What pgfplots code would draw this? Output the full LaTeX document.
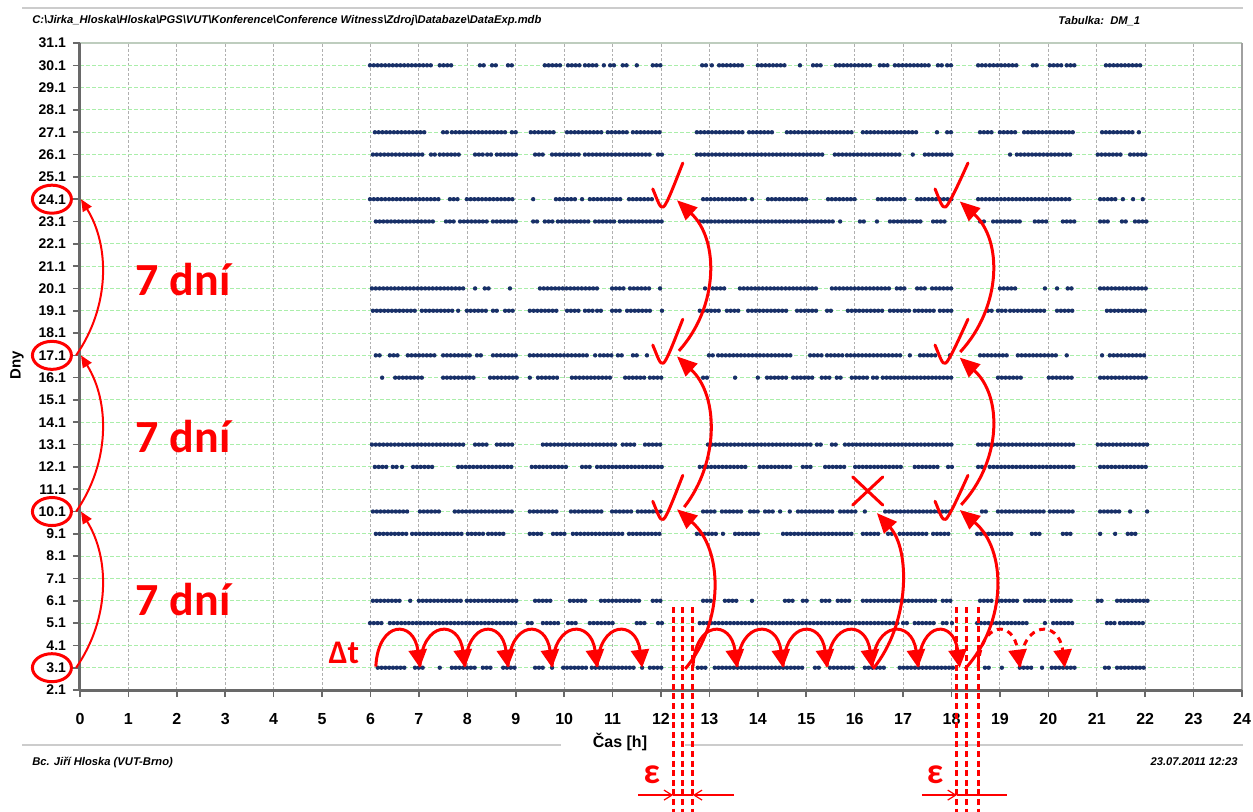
\documentclass[border=0pt]{standalone}
\usepackage{fontspec}
\setmainfont{Liberation Sans}
\newfontfamily\calib{Carlito}
\usepackage{pgfplots}
\pgfplotsset{compat=1.18}
\usepackage{pgfplotstable}
\usetikzlibrary{arrows.meta}
\definecolor{dotc}{RGB}{24,48,104}
\definecolor{axc}{RGB}{105,105,105}
\definecolor{vgrid}{RGB}{175,175,175}
\definecolor{hgrid}{RGB}{170,238,170}
\definecolor{topb}{RGB}{190,205,190}
\definecolor{rgtb}{RGB}{160,160,160}
\definecolor{rd}{RGB}{255,0,0}

% runs of points (start hour, end hour) for each day
\pgfplotstableread{
a b
5.99 7.31
7.43 7.74
8.26 8.34
8.51 8.61
8.84 8.96
9.60 9.95
10.08 10.37
10.43 10.68
10.82 10.88
10.95 11.05
11.21 11.36
11.50 11.54
11.83 12.02
12.85 12.97
13.05 13.07
13.20 13.69
14.00 14.62
14.87 14.93
15.14 15.34
15.61 16.36
16.52 16.69
16.83 17.39
17.45 17.60
17.72 17.80
17.91 18.01
18.55 18.73
18.79 19.41
19.68 19.79
20.03 20.30
20.38 20.55
21.19 21.95
}\dA
\pgfplotstableread{
a b
6.09 7.13
7.50 7.58
7.68 8.84
8.92 9.03
9.31 9.81
10.06 10.80
10.90 11.30
11.42 12.02
12.74 13.69
13.82 14.35
14.60 16.01
16.17 17.29
17.70 17.74
17.91 18.03
18.59 18.84
19.00 19.37
19.50 19.66
19.72 20.55
21.11 21.75
21.87 21.93
}\dB
\pgfplotstableread{
a b
6.05 7.13
7.25 7.37
7.43 7.89
8.16 8.34
8.41 8.51
8.61 9.03
9.40 9.60
9.75 10.33
10.43 11.77
11.94 12.04
12.74 15.34
15.59 16.98
17.20 17.24
17.45 18.01
19.21 19.25
19.35 20.51
21.02 21.52
21.69 22.06
}\dC
\pgfplotstableread{
a b
5.99 7.48
7.64 7.85
7.99 8.94
9.36 9.40
9.83 10.28
10.37 10.43
10.53 11.19
11.34 11.83
12.87 13.80
13.88 13.94
14.21 15.01
15.45 16.01
16.48 17.04
17.29 18.03
18.55 20.49
21.07 21.42
21.54 21.56
21.75 21.77
21.95 21.97
}\dD
\pgfplotstableread{
a b
6.11 7.33
7.56 7.79
7.85 8.47
8.53 9.03
9.36 9.50
9.60 9.77
9.87 10.53
10.64 11.09
11.15 12.04
12.80 15.55
15.70 15.76
16.11 16.25
16.46 16.48
16.73 17.39
17.62 17.93
18.59 18.73
18.86 19.48
19.72 19.99
20.30 20.55
21.07 21.27
21.52 21.64
21.79 22.04
}\dE
\pgfplotstableread{
a b
6.03 7.99
8.16 8.22
8.36 8.47
8.88 8.92
9.50 10.74
10.99 11.30
11.36 11.81
11.98 12.04
12.91 12.95
13.07 13.36
13.63 15.24
15.53 16.73
16.87 17.08
17.29 17.45
17.60 18.01
19.00 19.37
19.93 19.99
20.18 20.24
20.40 20.55
21.07 22.04
}\dF
\pgfplotstableread{
a b
6.05 6.96
7.06 7.70
7.81 7.85
7.99 8.41
8.53 8.61
8.78 8.98
9.29 9.91
10.06 10.33
10.43 10.64
10.68 10.80
10.99 11.21
11.30 11.83
12.02 12.04
12.80 13.26
13.36 13.67
13.80 14.62
14.81 15.28
15.43 15.55
15.86 16.58
16.73 17.14
17.24 17.66
17.76 18.01
18.75 18.84
18.96 19.14
19.21 19.45
19.52 19.97
20.18 20.55
21.21 22.04
}\dG
\pgfplotstableread{
a b
6.11 6.26
6.40 6.61
6.77 7.37
7.50 8.05
8.20 8.32
8.53 9.05
9.29 10.49
10.64 10.68
10.74 11.01
11.11 11.19
11.42 11.50
11.71 11.73
12.99 13.07
13.18 14.73
15.08 15.32
15.43 15.76
15.84 17.00
17.14 17.20
17.35 17.70
17.97 18.03
18.59 19.21
19.37 20.20
20.38 20.40
21.11 21.17
21.27 22.04
}\dH
\pgfplotstableread{
a b
6.24 6.30
6.51 7.13
7.50 8.20
8.47 9.05
9.29 9.36
9.46 9.91
10.16 10.99
11.26 11.67
11.77 12.02
12.87 13.01
13.53 13.57
14.00 14.04
14.19 14.62
14.73 15.18
15.32 15.49
15.63 15.74
15.94 16.32
16.38 16.48
16.58 18.01
18.96 19.48
20.01 20.55
21.07 22.06
}\dI
\pgfplotstableread{
a b
6.03 7.99
8.16 8.41
8.61 8.94
9.56 11.09
11.21 11.46
11.67 12.02
12.97 15.14
15.22 15.34
15.53 15.65
15.80 18.03
18.55 20.55
21.02 22.06
}\dJ
\pgfplotstableread{
a b
6.09 6.34
6.46 6.55
6.65 6.71
6.88 7.33
7.81 8.98
9.33 10.08
10.37 10.53
10.68 12.02
12.80 13.78
14.04 14.73
14.93 15.14
15.39 15.86
16.01 17.00
17.24 17.72
17.93 18.03
18.55 18.65
18.79 20.55
21.07 22.04
}\dK
\pgfplotstableread{
a b
6.05 6.82
7.02 7.48
7.74 8.98
9.29 9.87
10.14 10.78
10.99 11.42
11.52 12.02
12.87 13.11
13.26 13.69
13.84 14.00
14.15 14.31
14.46 14.48
14.66 14.73
14.83 15.55
15.70 16.05
16.21 16.23
16.63 18.03
18.63 18.75
18.96 19.93
20.03 20.55
21.07 21.52
21.69 21.71
22.04 22.06
}\dL
\pgfplotstableread{
a b
6.11 6.75
6.86 7.91
8.01 8.36
8.43 8.78
9.29 9.56
9.77 10.08
10.18 11.26
11.34 12.04
12.74 13.16
13.28 13.30
13.53 14.04
14.52 15.96
16.17 16.56
16.69 16.77
16.93 17.49
17.62 18.01
18.53 19.25
19.66 19.89
20.30 20.51
21.07 21.11
21.38 21.42
21.64 21.85
}\dM
\pgfplotstableread{
a b
6.05 6.65
6.82 6.88
7.00 7.89
7.99 9.03
9.40 9.77
10.12 10.47
10.76 11.57
11.83 12.02
12.87 13.05
13.32 13.63
13.88 13.94
14.56 14.73
14.93 15.01
15.32 15.53
15.65 15.90
16.17 17.72
17.82 18.03
18.59 18.90
18.96 19.37
19.52 19.93
20.07 20.51
21.02 21.17
21.42 22.06
}\dN
\pgfplotstableread{
a b
5.99 6.24
6.40 9.03
9.25 9.40
9.56 9.91
10.08 10.28
10.53 11.05
11.50 11.67
11.94 12.02
12.80 16.93
17.00 17.10
17.24 17.70
17.82 17.91
18.01 18.03
18.53 19.62
19.93 19.97
20.10 20.55
21.21 21.38
21.48 21.99
}\dO
\pgfplotstableread{
a b
6.15 6.75
6.92 7.13
7.43 7.48
7.68 8.16
8.32 8.51
8.74 9.03
9.40 9.60
9.75 9.81
9.98 10.47
10.57 11.50
11.61 11.63
11.77 12.02
12.76 12.95
13.11 14.93
15.18 15.28
15.49 16.01
16.21 16.67
16.93 18.03
18.69 18.84
19.04 19.10
19.41 19.66
19.87 19.89
20.07 20.55
21.17 21.31
21.42 22.04
}\dP

\tikzset{
  dotrow/.style={draw=dotc, line width=2.2pt, line cap=round, dash pattern=on 0pt off 1.9pt},
  big/.style={draw=rd, line width=1.5pt, -{Triangle[length=10pt,width=8.5pt]}},
  hop/.style={draw=rd, line width=1.5pt, -{Triangle[length=9pt,width=9pt]}},
  chk/.style={draw=rd, line width=1.5pt, line cap=round, line join=round},
  lft/.style={draw=rd, line width=1pt, -{Triangle[length=6pt,width=5pt]}},
  eps/.style={draw=rd, line width=0.6pt},
  vd/.style={draw=rd, line width=1.5pt, dash pattern=on 3pt off 1.8pt},
}

\begin{document}
\begin{tikzpicture}
\useasboundingbox (-40pt,-60.5pt) rectangle (586.5pt,345pt);
% page header / footer
\draw[color=gray!40, line width=1pt] (-29pt,341pt) -- (581.5pt,341pt);
\draw[color=gray!40, line width=1pt] (-29pt,-27.5pt) -- (240.5pt,-27.5pt);
\draw[color=gray!40, line width=1pt] (302.5pt,-27.5pt) -- (581.5pt,-27.5pt);
\node[anchor=west, inner sep=0pt] at (-24pt,334.5pt) {\resizebox{254.5pt}{!}{\bfseries\itshape C:\textbackslash Jirka\_Hloska\textbackslash Hloska\textbackslash PGS\textbackslash VUT\textbackslash Konference\textbackslash Conference Witness\textbackslash Zdroj\textbackslash Databaze\textbackslash DataExp.mdb}};
\node[anchor=west, inner sep=0pt, font=\bfseries\itshape\fontsize{5.6}{6}\selectfont] at (489pt,334.5pt) {Tabulka:\ \ DM\_1};
\node[anchor=west, inner sep=0pt, font=\bfseries\itshape\fontsize{5.6}{6}\selectfont] at (-24pt,-36pt) {Bc. Jiří Hloska (VUT-Brno)};
\node[anchor=east, inner sep=0pt, font=\bfseries\itshape\fontsize{5.6}{6}\selectfont] at (579pt,-36pt) {23.07.2011 12:23};

\begin{axis}[
  at={(0,0)}, anchor=south west,
  scale only axis, width=581pt, height=323.5pt,
  xmin=0, xmax=24, ymin=2, ymax=31,
  xtick={0,1,...,24}, ytick={2,3,...,31},
  xticklabels={0,1,2,3,4,5,6,7,8,9,10,11,12,13,14,15,16,17,18,19,20,21,22,23,24},
  yticklabels={2.1,3.1,4.1,5.1,6.1,7.1,8.1,9.1,10.1,11.1,12.1,13.1,14.1,15.1,16.1,17.1,18.1,19.1,20.1,21.1,22.1,23.1,24.1,25.1,26.1,27.1,28.1,29.1,30.1,31.1},
  xtick pos=bottom, ytick pos=left,
  tick align=outside, major tick length=3.5pt,
  tick style={draw=axc, line width=0.8pt},
  xmajorgrids, ymajorgrids,
  x grid style={draw=vgrid, line width=0.5pt, dash pattern=on 1.4pt off 1pt},
  y grid style={draw=hgrid, line width=0.5pt, dash pattern=on 2pt off 1pt},
  axis line style={draw=none},
  clip=false,
  yticklabel style={font=\bfseries\fontsize{7}{8}\selectfont},
  xticklabel style={font=\bfseries\fontsize{8}{9}\selectfont, yshift=-4.5pt},
  xlabel={Čas [h]}, ylabel={Dny},
  xlabel style={at={(axis description cs:0.4647,-0.0804)}, anchor=center, font=\bfseries\fontsize{8}{9}\selectfont},
  ylabel style={at={(axis description cs:-0.0542,0.502)}, anchor=center, font=\bfseries\fontsize{7.5}{9}\selectfont},
]
\addplot[dotrow, quiver={u=\thisrow{b}-\thisrow{a}, v=0}] table[x=a, y expr=30] {\dA};
\addplot[dotrow, quiver={u=\thisrow{b}-\thisrow{a}, v=0}] table[x=a, y expr=27] {\dB};
\addplot[dotrow, quiver={u=\thisrow{b}-\thisrow{a}, v=0}] table[x=a, y expr=26] {\dC};
\addplot[dotrow, quiver={u=\thisrow{b}-\thisrow{a}, v=0}] table[x=a, y expr=24] {\dD};
\addplot[dotrow, quiver={u=\thisrow{b}-\thisrow{a}, v=0}] table[x=a, y expr=23] {\dE};
\addplot[dotrow, quiver={u=\thisrow{b}-\thisrow{a}, v=0}] table[x=a, y expr=20] {\dF};
\addplot[dotrow, quiver={u=\thisrow{b}-\thisrow{a}, v=0}] table[x=a, y expr=19] {\dG};
\addplot[dotrow, quiver={u=\thisrow{b}-\thisrow{a}, v=0}] table[x=a, y expr=17] {\dH};
\addplot[dotrow, quiver={u=\thisrow{b}-\thisrow{a}, v=0}] table[x=a, y expr=16] {\dI};
\addplot[dotrow, quiver={u=\thisrow{b}-\thisrow{a}, v=0}] table[x=a, y expr=13] {\dJ};
\addplot[dotrow, quiver={u=\thisrow{b}-\thisrow{a}, v=0}] table[x=a, y expr=12] {\dK};
\addplot[dotrow, quiver={u=\thisrow{b}-\thisrow{a}, v=0}] table[x=a, y expr=10] {\dL};
\addplot[dotrow, quiver={u=\thisrow{b}-\thisrow{a}, v=0}] table[x=a, y expr=9] {\dM};
\addplot[dotrow, quiver={u=\thisrow{b}-\thisrow{a}, v=0}] table[x=a, y expr=6] {\dN};
\addplot[dotrow, quiver={u=\thisrow{b}-\thisrow{a}, v=0}] table[x=a, y expr=5] {\dO};
\addplot[dotrow, quiver={u=\thisrow{b}-\thisrow{a}, v=0}] table[x=a, y expr=3] {\dP};

% frame
\draw[draw=topb, line width=1.2pt] (rel axis cs:0,1) -- (rel axis cs:1,1);
\draw[draw=rgtb, line width=1.3pt] (rel axis cs:1,0) -- (rel axis cs:1,1);
\draw[draw=axc, line width=1.5pt] (rel axis cs:0,0) -- (rel axis cs:1,0);
\draw[draw=axc, line width=1.5pt] (rel axis cs:0,0) -- (rel axis cs:0,1);

% annotations: circles on the day labels
\draw[rd, line width=1.5pt] (axis cs:-0.58,24) ellipse [x radius=9.75pt, y radius=7pt];
\draw[rd, line width=1.5pt] (axis cs:-0.58,17) ellipse [x radius=9.75pt, y radius=7pt];
\draw[rd, line width=1.5pt] (axis cs:-0.58,10) ellipse [x radius=9.75pt, y radius=7pt];
\draw[rd, line width=1.5pt] (axis cs:-0.58,3) ellipse [x radius=9.75pt, y radius=7pt];
\draw[lft] (axis cs:-0.08,3) .. controls (axis cs:0.62,5.2) and (axis cs:0.62,7.9) .. (axis cs:0.02,10);
\draw[lft] (axis cs:-0.08,10) .. controls (axis cs:0.62,12.2) and (axis cs:0.62,14.9) .. (axis cs:0.02,17);
\draw[lft] (axis cs:-0.08,17) .. controls (axis cs:0.62,19.2) and (axis cs:0.62,21.9) .. (axis cs:0.02,24);
\node[text=rd, font=\calib\bfseries\fontsize{23}{26}\selectfont] at (axis cs:2.13,20.4) {7 dní};
\node[text=rd, font=\calib\bfseries\fontsize{23}{26}\selectfont] at (axis cs:2.13,13.36) {7 dní};
\node[text=rd, font=\calib\bfseries\fontsize{23}{26}\selectfont] at (axis cs:2.13,6.05) {7 dní};

% hops along day 3
\node[text=rd, font=\calib\bfseries\fontsize{16.5}{18}\selectfont] at (axis cs:5.45,3.66) {Δt};
\draw[hop] (axis cs:6.11,3.05) .. controls (axis cs:6.16,5.15) and (axis cs:6.90,5.15) .. (axis cs:7.02,3.0);
\draw[hop] (axis cs:7.02,3.05) .. controls (axis cs:7.07,5.15) and (axis cs:7.83,5.15) .. (axis cs:7.95,3.0);
\draw[hop] (axis cs:7.95,3.05) .. controls (axis cs:8.00,5.15) and (axis cs:8.72,5.15) .. (axis cs:8.84,3.0);
\draw[hop] (axis cs:8.84,3.05) .. controls (axis cs:8.89,5.15) and (axis cs:9.63,5.15) .. (axis cs:9.75,3.0);
\draw[hop] (axis cs:9.75,3.05) .. controls (axis cs:9.80,5.15) and (axis cs:10.56,5.15) .. (axis cs:10.68,3.0);
\draw[hop] (axis cs:10.68,3.05) .. controls (axis cs:10.73,5.15) and (axis cs:11.49,5.15) .. (axis cs:11.61,3.0);
\draw[hop] (axis cs:12.66,3.05) .. controls (axis cs:12.71,5.15) and (axis cs:13.45,5.15) .. (axis cs:13.57,3.0);
\draw[hop] (axis cs:13.57,3.05) .. controls (axis cs:13.62,5.15) and (axis cs:14.40,5.15) .. (axis cs:14.52,3.0);
\draw[hop] (axis cs:14.52,3.05) .. controls (axis cs:14.57,5.15) and (axis cs:15.31,5.15) .. (axis cs:15.43,3.0);
\draw[hop] (axis cs:15.43,3.05) .. controls (axis cs:15.48,5.15) and (axis cs:16.24,5.15) .. (axis cs:16.36,3.0);
\draw[hop] (axis cs:16.36,3.05) .. controls (axis cs:16.41,5.15) and (axis cs:17.19,5.15) .. (axis cs:17.31,3.0);
\draw[hop] (axis cs:17.31,3.05) .. controls (axis cs:17.36,5.15) and (axis cs:18.05,5.15) .. (axis cs:18.17,3.0);
\draw[hop, dash pattern=on 3pt off 2.5pt] (axis cs:18.55,3.05) .. controls (axis cs:18.60,5.15) and (axis cs:19.29,5.15) .. (axis cs:19.41,3.0);
\draw[hop, dash pattern=on 3pt off 2.5pt] (axis cs:19.41,3.05) .. controls (axis cs:19.46,5.15) and (axis cs:20.22,5.15) .. (axis cs:20.34,3.0);

% week arrows at 12 h
\draw[big] (axis cs:12.5,2.95) .. controls (axis cs:13.3,5.0) and (axis cs:13.3,8.3) .. (axis cs:12.33,10.1);
\draw[big] (axis cs:12.48,10.2) .. controls (axis cs:13.2,12.2) and (axis cs:13.2,15.2) .. (axis cs:12.33,16.95);
\draw[big] (axis cs:12.37,17.2) .. controls (axis cs:13.2,19.2) and (axis cs:13.2,22.2) .. (axis cs:12.33,23.95);
% week arrows at 18 h
\draw[big] (axis cs:18.28,2.95) .. controls (axis cs:19.15,5.0) and (axis cs:19.15,8.3) .. (axis cs:18.17,10.07);
\draw[big] (axis cs:18.2,10.3) .. controls (axis cs:19.05,12.3) and (axis cs:19.05,15.2) .. (axis cs:18.17,16.9);
\draw[big] (axis cs:18.18,17.15) .. controls (axis cs:19.05,19.2) and (axis cs:19.05,22.2) .. (axis cs:18.17,23.9);
% arrow at 16 h with cross
\draw[big] (axis cs:16.38,2.95) .. controls (axis cs:17.15,5.0) and (axis cs:17.15,8.3) .. (axis cs:16.46,9.93);
\draw[chk] (axis cs:15.96,10.29) -- (axis cs:16.58,11.55);
\draw[chk] (axis cs:15.96,11.55) -- (axis cs:16.58,10.29);

% check marks
\draw[chk] (axis cs:11.83,24.46) .. controls (axis cs:11.93,23.95) and (axis cs:11.98,23.55) .. (axis cs:12.05,23.65) .. controls (axis cs:12.12,23.75) and (axis cs:12.30,24.8) .. (axis cs:12.45,25.62);
\draw[chk] (axis cs:11.83,17.46) .. controls (axis cs:11.93,16.95) and (axis cs:11.98,16.55) .. (axis cs:12.05,16.65) .. controls (axis cs:12.12,16.75) and (axis cs:12.30,17.8) .. (axis cs:12.45,18.62);
\draw[chk] (axis cs:11.83,10.46) .. controls (axis cs:11.93,9.95) and (axis cs:11.98,9.55) .. (axis cs:12.05,9.65) .. controls (axis cs:12.12,9.75) and (axis cs:12.30,10.8) .. (axis cs:12.45,11.62);
\draw[chk] (axis cs:17.66,24.46) .. controls (axis cs:17.76,23.95) and (axis cs:17.81,23.55) .. (axis cs:17.88,23.65) .. controls (axis cs:17.95,23.75) and (axis cs:18.17,24.8) .. (axis cs:18.34,25.62);
\draw[chk] (axis cs:17.66,17.46) .. controls (axis cs:17.76,16.95) and (axis cs:17.81,16.55) .. (axis cs:17.88,16.65) .. controls (axis cs:17.95,16.75) and (axis cs:18.17,17.8) .. (axis cs:18.34,18.62);
\draw[chk] (axis cs:17.66,10.46) .. controls (axis cs:17.76,9.95) and (axis cs:17.81,9.55) .. (axis cs:17.88,9.65) .. controls (axis cs:17.95,9.75) and (axis cs:18.17,10.8) .. (axis cs:18.34,11.62);

% epsilon tolerance lines
\draw[vd] (axis cs:12.25,5.72) -- (axis cs:12.25,-3.6);
\draw[vd] (axis cs:12.45,5.72) -- (axis cs:12.45,-3.6);
\draw[vd] (axis cs:12.66,5.72) -- (axis cs:12.66,-3.6);
\draw[vd] (axis cs:18.11,5.72) -- (axis cs:18.11,-3.6);
\draw[vd] (axis cs:18.32,5.72) -- (axis cs:18.32,-3.6);
\draw[vd] (axis cs:18.55,5.72) -- (axis cs:18.55,-3.6);
\node[text=rd, font=\calib\bfseries\fontsize{18}{20}\selectfont] at (axis cs:11.81,-1.81) {ε};
\node[text=rd, font=\calib\bfseries\fontsize{18}{20}\selectfont] at (axis cs:17.66,-1.81) {ε};
\draw[eps, -{Straight Barb[length=4pt,width=5pt]}] (axis cs:11.53,-2.71) -- (axis cs:12.25,-2.71);
\draw[eps, -{Straight Barb[length=4pt,width=5pt]}] (axis cs:13.51,-2.71) -- (axis cs:12.66,-2.71);
\draw[eps] (axis cs:12.25,-2.71) -- (axis cs:12.66,-2.71);
\draw[eps, -{Straight Barb[length=4pt,width=5pt]}] (axis cs:17.39,-2.71) -- (axis cs:18.11,-2.71);
\draw[eps] (axis cs:18.11,-2.71) -- (axis cs:19.14,-2.71);
\end{axis}
\end{tikzpicture}
\end{document}
